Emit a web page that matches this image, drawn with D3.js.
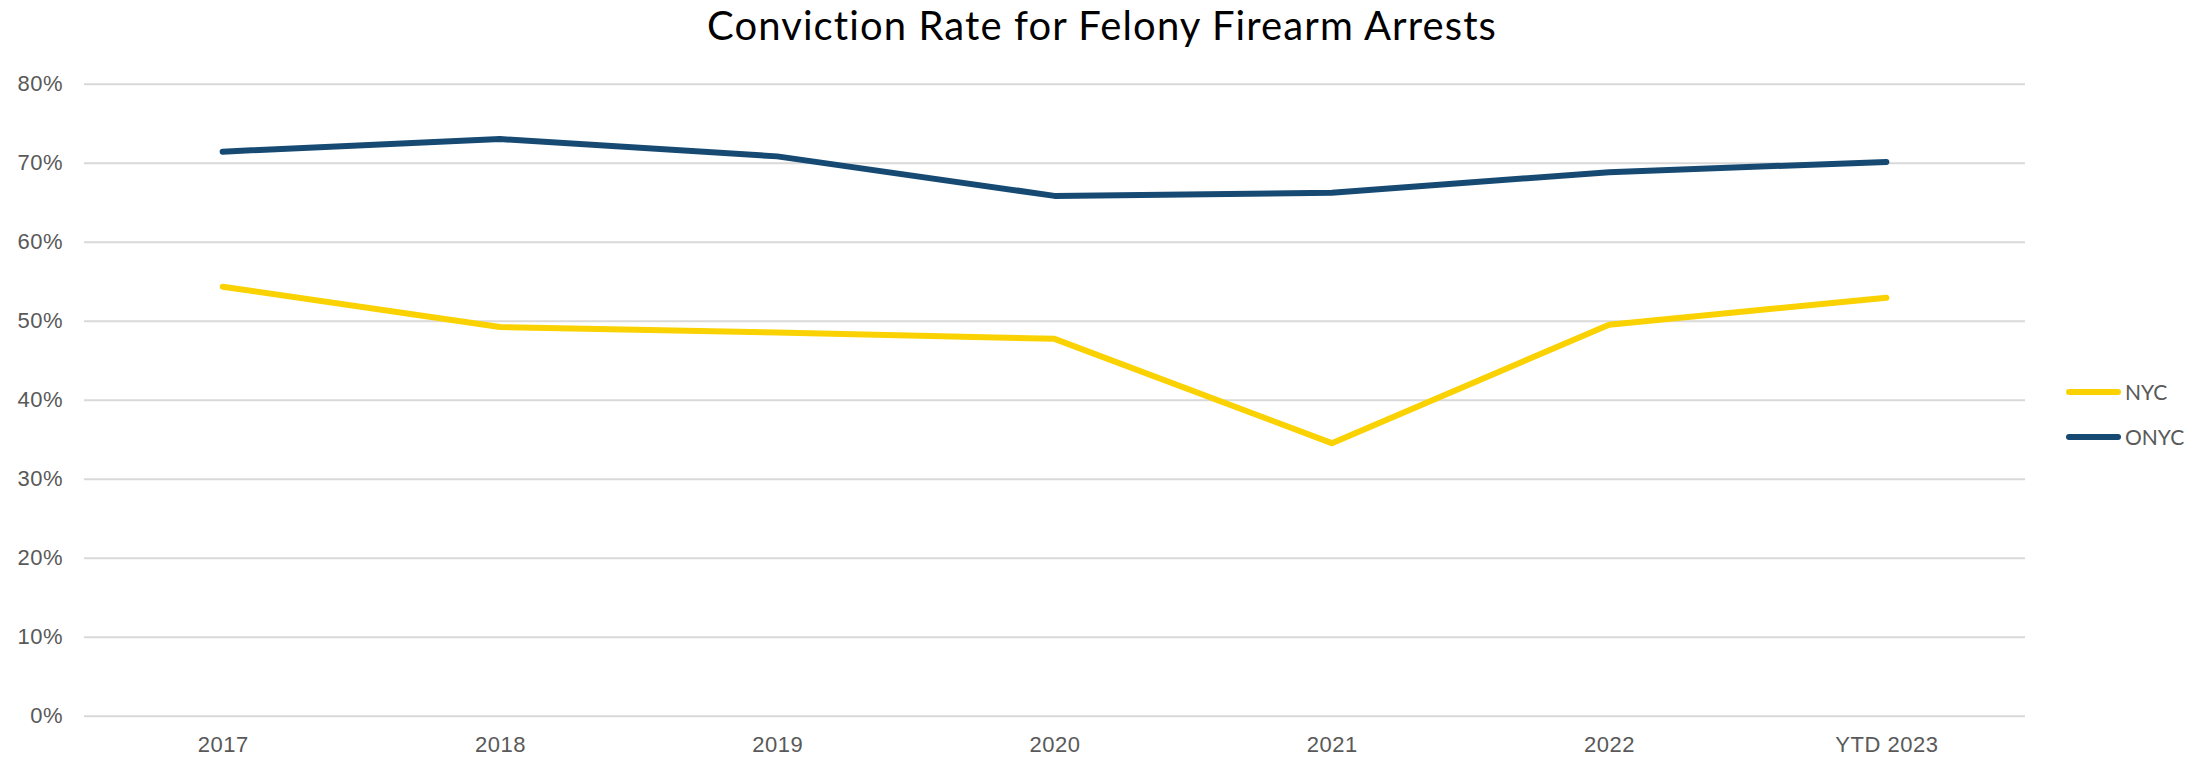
<!DOCTYPE html>
<html>
<head>
<meta charset="utf-8">
<script src="https://cdn.jsdelivr.net/npm/d3@7"></script>
<style>
  body { margin: 0; background: #fff; }
  svg { display: block; font-family: Lato, "Open Sans", sans-serif; }
</style>
</head>
<body>
<svg id="chart" width="2204" height="757"></svg>
<script>
// data
var categories = ["2017", "2018", "2019", "2020", "2021", "2022", "YTD 2023"];
var nycValues  = [0.543, 0.492, 0.485, 0.477, 0.345, 0.495, 0.529];
var onycValues = [0.714, 0.730, 0.708, 0.658, 0.662, 0.688, 0.701];
var yTicks = [0, 0.1, 0.2, 0.3, 0.4, 0.5, 0.6, 0.7, 0.8];
var seriesNames = ["NYC", "ONYC"];
var seriesColors = ["#FAD201", "#174A73"];

var svg = d3.select("#chart");

var plot = { left: 84, right: 2025, top: 83.7, bottom: 715.7 };

var xscale = d3.scalePoint()
    .domain(categories)
    .range([plot.left, plot.right])
    .padding(0.5);

var yscale = d3.scaleLinear()
    .domain([0, 0.8])
    .range([plot.bottom, plot.top]);

// title
svg.append("text")
    .attr("x", 1102)
    .attr("y", 40)
    .attr("text-anchor", "middle")
    .style("font-size", "40px")
    .style("letter-spacing", "1.1px")
    .style("fill", "#000")
    .text("Conviction Rate for Felony Firearm Arrests");

// gridlines + y labels
var y_axis = d3.axisLeft(yscale)
    .tickValues(yTicks)
    .tickFormat(d3.format(".0%"))
    .tickSize(-(plot.right - plot.left))
    .tickPadding(20);

var gy = svg.append("g")
    .attr("class", "y_axis")
    .attr("transform", "translate(" + plot.left + ",0)")
    .call(y_axis);
gy.select(".domain").remove();
gy.selectAll("line").attr("stroke", "#d9d9d9").attr("stroke-width", 2);
gy.selectAll("text")
    .attr("x", 63 - plot.left)
    .style("font-size", "22px")
    .style("letter-spacing", "0.5px")
    .style("fill", "#595959");

// x labels
var x_axis = d3.axisBottom(xscale).tickSize(0).tickPadding(0);
var gx = svg.append("g")
    .attr("class", "x_axis")
    .attr("transform", "translate(0," + plot.bottom + ")")
    .call(x_axis);
gx.select(".domain").remove();
gx.selectAll("text")
    .attr("dy", null)
    .attr("y", 36)
    .style("font-size", "22px")
    .style("letter-spacing", "0.5px")
    .style("fill", "#595959");

// lines
var series = [
    { name: seriesNames[0], values: nycValues, color: seriesColors[0] },
    { name: seriesNames[1], values: onycValues, color: seriesColors[1] }
];

var line = d3.line()
    .x(function(d, i) { return xscale(categories[i]); })
    .y(function(d) { return yscale(d); });

svg.selectAll(".series")
    .data(series)
    .enter().append("path")
    .attr("class", "series")
    .attr("d", function(d) { return line(d.values); })
    .attr("fill", "none")
    .attr("stroke", function(d) { return d.color; })
    .attr("stroke-width", 6)
    .attr("stroke-linecap", "round")
    .attr("stroke-linejoin", "round");

// legend
var legend = svg.selectAll(".legend")
    .data(series)
    .enter().append("g")
    .attr("class", "legend")
    .attr("transform", function(d, i) { return "translate(2066," + (392 + i * 45) + ")"; });

legend.append("line")
    .attr("x1", 3).attr("x2", 52)
    .attr("y1", 0).attr("y2", 0)
    .attr("stroke", function(d) { return d.color; })
    .attr("stroke-width", 6)
    .attr("stroke-linecap", "round");

legend.append("text")
    .attr("x", 59)
    .attr("y", 7.5)
    .style("font-size", "21px")
    .style("fill", "#595959")
    .text(function(d) { return d.name; });
</script>
</body>
</html>
